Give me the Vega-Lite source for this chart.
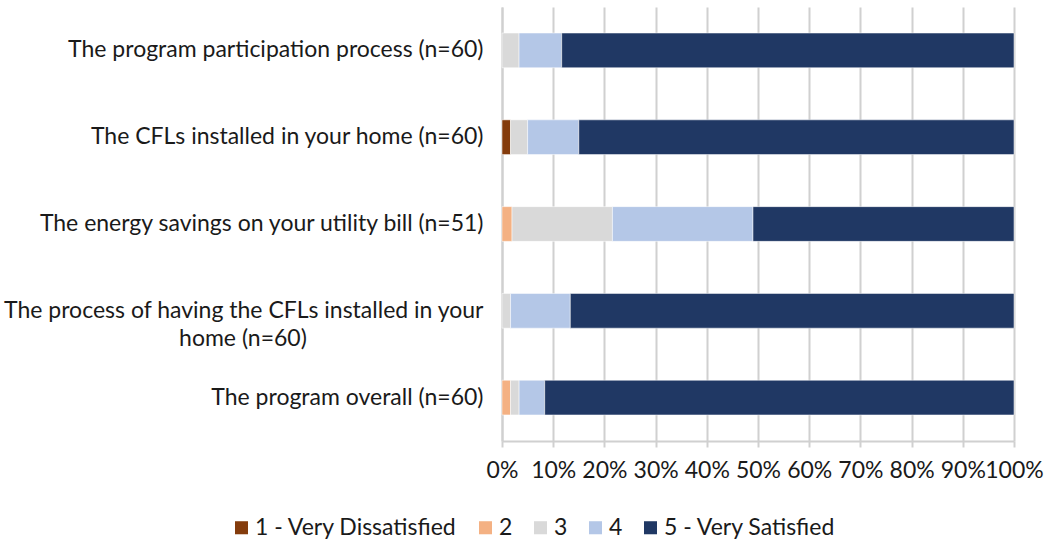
{
  "$schema": "https://vega.github.io/schema/vega-lite/v6.json",
  "width": 512,
  "height": 434,
  "autosize": {"type": "none"},
  "padding": {"left": 502, "top": 7, "right": 32, "bottom": 103},
  "background": "white",
  "data": {
    "values": [
      {"item": "The program participation process (n=60)", "rating": "3", "share": 0.0333},
      {"item": "The program participation process (n=60)", "rating": "4", "share": 0.0833},
      {"item": "The program participation process (n=60)", "rating": "5 - Very Satisfied", "share": 0.8834},
      {"item": "The CFLs installed in your home (n=60)", "rating": "1 - Very Dissatisfied", "share": 0.0167},
      {"item": "The CFLs installed in your home (n=60)", "rating": "3", "share": 0.0333},
      {"item": "The CFLs installed in your home (n=60)", "rating": "4", "share": 0.1},
      {"item": "The CFLs installed in your home (n=60)", "rating": "5 - Very Satisfied", "share": 0.85},
      {"item": "The energy savings on your utility bill (n=51)", "rating": "2", "share": 0.0196},
      {"item": "The energy savings on your utility bill (n=51)", "rating": "3", "share": 0.1961},
      {"item": "The energy savings on your utility bill (n=51)", "rating": "4", "share": 0.2745},
      {"item": "The energy savings on your utility bill (n=51)", "rating": "5 - Very Satisfied", "share": 0.5098},
      {"item": "The process of having the CFLs installed in your|home (n=60)", "rating": "3", "share": 0.0167},
      {"item": "The process of having the CFLs installed in your|home (n=60)", "rating": "4", "share": 0.1167},
      {"item": "The process of having the CFLs installed in your|home (n=60)", "rating": "5 - Very Satisfied", "share": 0.8666},
      {"item": "The program overall (n=60)", "rating": "2", "share": 0.0167},
      {"item": "The program overall (n=60)", "rating": "3", "share": 0.0167},
      {"item": "The program overall (n=60)", "rating": "4", "share": 0.05},
      {"item": "The program overall (n=60)", "rating": "5 - Very Satisfied", "share": 0.9166}
    ]
  },
  "config": {
    "font": "Lato",
    "view": {"stroke": null}
  },
  "mark": {"type": "bar", "stroke": "white", "strokeWidth": 0.5},
  "encoding": {
    "y": {
      "field": "item",
      "type": "nominal",
      "sort": null,
      "title": null,
      "scale": {"paddingInner": 0.6, "paddingOuter": 0.3},
      "axis": {
        "labelExpr": "indexof(datum.label, '|') > 0 ? [split(datum.label, '|')[0], pad(split(datum.label, '|')[1], 41, '\u00a0') + '\u200b'] : datum.label",
        "labelFontSize": 23,
        "labelColor": "#1a1a1a",
        "labelPadding": 19,
        "labelLimit": 700,
        "ticks": false,
        "domain": true,
        "domainColor": "#d0d0d0",
        "domainWidth": 2,
        "labelLineHeight": 28
      }
    },
    "x": {
      "field": "share",
      "type": "quantitative",
      "stack": "zero",
      "title": null,
      "scale": {"domain": [0, 1], "nice": false},
      "axis": {
        "format": ".0%",
        "values": [0, 0.1, 0.2, 0.3, 0.4, 0.5, 0.6, 0.7, 0.8, 0.9, 1],
        "labelFontSize": 23,
        "labelColor": "#1a1a1a",
        "labelPadding": 12,
        "labelFlush": false,
        "labelOverlap": false,
        "grid": true,
        "gridColor": "#d0d0d0",
        "gridWidth": 2,
        "domainColor": "#d0d0d0",
        "domainWidth": 2,
        "tickColor": "#d0d0d0",
        "tickWidth": 2,
        "tickSize": 6
      }
    },
    "color": {
      "field": "rating",
      "type": "nominal",
      "scale": {
        "domain": ["1 - Very Dissatisfied", "2", "3", "4", "5 - Very Satisfied"],
        "range": ["#843C0C", "#F4B183", "#D9D9D9", "#B4C7E7", "#203864"]
      },
      "legend": {
        "title": null,
        "orient": "none",
        "direction": "horizontal",
        "legendX": -272,
        "legendY": 509,
        "symbolType": "square",
        "symbolSize": 170,
        "symbolStrokeWidth": 0,
        "labelFontSize": 23,
        "labelLimit": 400,
        "labelColor": "#1a1a1a",
        "labelOffset": 2,
        "columnPadding": 16
      }
    },
    "order": {"field": "rating", "sort": "ascending"}
  }
}
